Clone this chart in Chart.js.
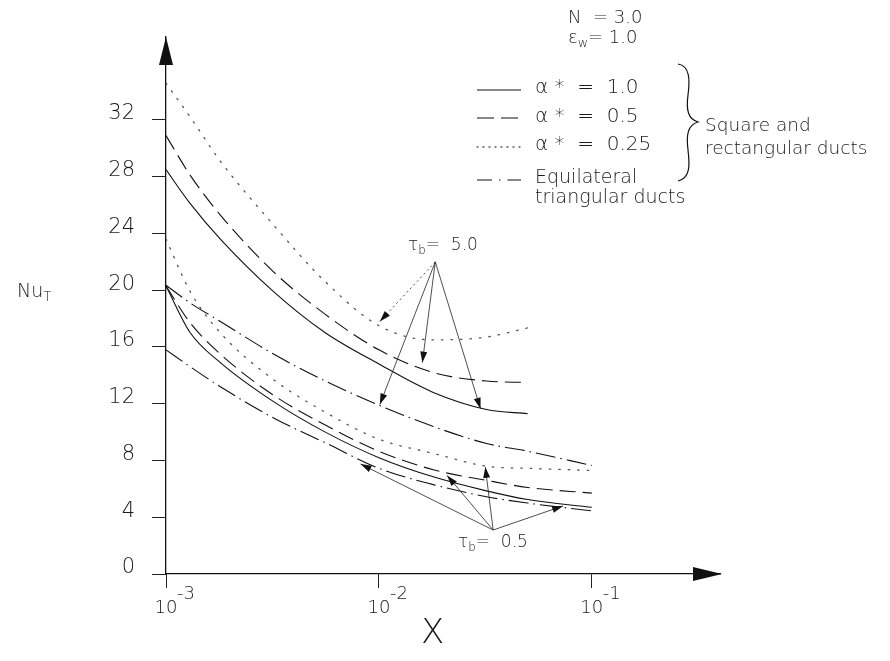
<!DOCTYPE html>
<html>
<head>
<meta charset="utf-8">
<script src="https://cdn.jsdelivr.net/npm/chart.js@4.4.0/dist/chart.umd.min.js"></script>
<style>
  html, body { margin: 0; padding: 0; background: #fff; }
  #wrap { position: relative; width: 890px; height: 661px; overflow: hidden; }
  #chart { position: absolute; left: 0; top: 0; }
  .lbl {
    position: absolute;
    font-family: "DejaVu Sans", "Liberation Sans", sans-serif;
    font-weight: 200;
    color: #1a1a1a;
    white-space: pre;
    line-height: 1;
  }
  .lbl sub { font-size: 70%; vertical-align: baseline; position: relative; top: 0.35em; line-height: 0; }
</style>
</head>
<body>
<div id="wrap">
  <canvas id="chart" width="890" height="661"></canvas>
</div>
<script>
// X positions (log axis)
const xShort = [0.001, 0.0013, 0.0018, 0.0032, 0.0056, 0.01, 0.018, 0.032, 0.05];
const xLong = [0.001, 0.0013, 0.0018, 0.0032, 0.0056, 0.01, 0.018, 0.032, 0.05, 0.1];

// tau_b = 5.0
const nu5Square = [28.5, 26.1, 23.6, 19.9, 17.0, 14.8, 12.8, 11.6, 11.3];
const nu5Rect05 = [30.9, 28.1, 25.3, 21.3, 18.3, 15.8, 14.2, 13.6, 13.5];
const nu5Rect025 = [34.6, 32.2, 29.1, 24.6, 20.6, 17.5, 16.5, 16.7, 17.35];
const nu5Tri = [20.35, 19.1, 17.8, 15.5, 13.6, 11.9, 10.4, 9.2, 8.65, 7.65];

// tau_b = 0.5
const nu05Square = [20.3, 17.0, 14.9, 12.15, 10.0, 8.2, 6.85, 5.86, 5.25, 4.7];
const nu05Rect05 = [20.3, 17.7, 15.5, 12.6, 10.5, 8.65, 7.35, 6.6, 6.1, 5.7];
const nu05Rect025 = [23.6, 19.9, 17.0, 13.7, 11.4, 9.5, 8.5, 7.6, 7.45, 7.3];
const nu05Tri = [15.8, 14.6, 13.2, 11.0, 9.25, 7.45, 6.3, 5.45, 5.0, 4.45];

// ticks
const xTicks = [0.001, 0.01, 0.1];
const xTickExp = ['-3', '-2', '-1'];
const yTicks = [0, 4, 8, 12, 16, 20, 24, 28, 32];

// arrows (data coordinates): origin, then targets
const arrowFrom5 = [0.0184, 22.0];
const arrowTo5 = [[0.0101, 17.8], [0.016, 14.9], [0.0101, 11.95], [0.03, 11.65]];
const arrowFrom05 = [0.0344, 3.1];
const arrowTo05 = [[0.0082, 7.75], [0.0209, 6.95], [0.0316, 7.55], [0.0733, 4.8]];

const FONT = "'DejaVu Sans', 'Liberation Sans', sans-serif";
const INK = '#1a1a1a';

const dashes = {
    solid: [],
    dashed: [16, 7],
    dotted: [1.5, 8],
    dashdot: [20, 5, 1.5, 5]
};

function series(xs, ys, dash, color) {
    return {
        data: xs.map((x, i) => ({ x: x, y: ys[i] })),
        borderColor: color || '#111',
        borderWidth: dash === 'dotted' ? 1.3 : 1.1,
        borderDash: dashes[dash],
        borderCapStyle: dash === 'dotted' ? 'round' : 'butt',
        pointRadius: 0,
        fill: false,
        cubicInterpolationMode: 'monotone'
    };
}

function arrow(ctx, x1, y1, x2, y2, dash) {
    ctx.save();
    ctx.strokeStyle = '#222';
    ctx.lineWidth = 0.8;
    ctx.setLineDash(dash || []);
    ctx.beginPath();
    ctx.moveTo(x1, y1);
    ctx.lineTo(x2, y2);
    ctx.stroke();
    ctx.setLineDash([]);
    const a = Math.atan2(y2 - y1, x2 - x1);
    const L = 11, W = 3.5;
    ctx.beginPath();
    ctx.moveTo(x2, y2);
    ctx.lineTo(x2 - L * Math.cos(a) + W * Math.sin(a), y2 - L * Math.sin(a) - W * Math.cos(a));
    ctx.lineTo(x2 - L * Math.cos(a) - W * Math.sin(a), y2 - L * Math.sin(a) + W * Math.cos(a));
    ctx.closePath();
    ctx.fillStyle = '#111';
    ctx.fill();
    ctx.restore();
}

// axis arrowheads, pointer arrows, legend samples and brace
const decor = {
    id: 'decor',
    afterDraw(chart) {
        const { ctx, chartArea, scales } = chart;
        const px = v => scales.x.getPixelForValue(v);
        const py = v => scales.y.getPixelForValue(v);
        ctx.save();
        ctx.fillStyle = '#111';
        ctx.beginPath();
        ctx.moveTo(chartArea.left, chartArea.top);
        ctx.lineTo(chartArea.left - 7, chartArea.top + 28);
        ctx.lineTo(chartArea.left + 7, chartArea.top + 28);
        ctx.closePath();
        ctx.fill();
        ctx.beginPath();
        ctx.moveTo(chartArea.right + 2, chartArea.bottom);
        ctx.lineTo(chartArea.right - 27, chartArea.bottom - 7);
        ctx.lineTo(chartArea.right - 27, chartArea.bottom + 7);
        ctx.closePath();
        ctx.fill();
        ctx.restore();

        arrowTo5.forEach((t, i) => {
            arrow(ctx, px(arrowFrom5[0]), py(arrowFrom5[1]), px(t[0]), py(t[1]), i === 0 ? [2, 3] : []);
        });
        arrowTo05.forEach(t => {
            arrow(ctx, px(arrowFrom05[0]), py(arrowFrom05[1]), px(t[0]), py(t[1]));
        });

        // legend line samples
        const rows = [['solid', 90], ['dashed', 118], ['dotted', 147], ['dashdot', 180]];
        rows.forEach(r => {
            ctx.save();
            ctx.strokeStyle = r[0] === 'dotted' ? '#555' : '#111';
            ctx.lineWidth = r[0] === 'dotted' ? 1.3 : 1.1;
            ctx.lineCap = r[0] === 'dotted' ? 'round' : 'butt';
            ctx.setLineDash(r[0] === 'dotted' ? [1, 5] : r[0] === 'dashed' ? [17, 7] : r[0] === 'dashdot' ? [15, 7, 1.5, 7] : []);
            ctx.beginPath();
            ctx.moveTo(477, r[1]);
            ctx.lineTo(521, r[1]);
            ctx.stroke();
            ctx.restore();
        });

        // brace
        ctx.save();
        ctx.strokeStyle = '#111';
        ctx.lineWidth = 1.2;
        ctx.beginPath();
        ctx.moveTo(678, 64);
        ctx.bezierCurveTo(690, 66, 690, 80, 688, 95);
        ctx.bezierCurveTo(686, 110, 688, 119, 698, 122);
        ctx.bezierCurveTo(688, 125, 686, 134, 688, 150);
        ctx.bezierCurveTo(690, 166, 690, 178, 678, 181);
        ctx.stroke();
        ctx.restore();
    }
};

const ctx = document.getElementById('chart').getContext('2d');
new Chart(ctx, {
    type: 'line',
    data: {
        datasets: [
            series(xShort, nu5Square, 'solid'),
            series(xShort, nu5Rect05, 'dashed'),
            series(xShort, nu5Rect025, 'dotted', '#555'),
            series(xLong, nu5Tri, 'dashdot'),
            series(xLong, nu05Square, 'solid'),
            series(xLong, nu05Rect05, 'dashed'),
            series(xLong, nu05Rect025, 'dotted', '#555'),
            series(xLong, nu05Tri, 'dashdot')
        ]
    },
    options: {
        responsive: false,
        animation: false,
        devicePixelRatio: 1,
        layout: { padding: { left: 0, right: 170, top: 37, bottom: 0 } },
        plugins: { legend: { display: false }, tooltip: { enabled: false } },
        scales: {
            x: {
                type: 'logarithmic',
                min: 0.001,
                max: 0.4,
                afterBuildTicks: s => { s.ticks = xTicks.map(v => ({ value: v })); },
                afterFit: s => { s.height = 87; },
                grid: { drawOnChartArea: false, drawTicks: true, tickLength: 14, color: '#222', lineWidth: 1 },
                border: { display: true, color: '#111', width: 1.3 },
                ticks: {
                    autoSkip: false,
                    maxRotation: 0,
                    padding: 0,
                    color: INK,
                    font: { family: FONT, size: 18, weight: 200, lineHeight: '13.5px' },
                    callback: (v, i) => ['       ' + xTickExp[i], '10']
                }
            },
            y: {
                min: 0,
                max: 37.85,
                afterBuildTicks: s => { s.ticks = yTicks.map(v => ({ value: v })); },
                afterFit: s => { s.width = 166; },
                grid: { drawOnChartArea: false, drawTicks: true, tickLength: 14, color: '#222', lineWidth: 1 },
                border: { display: true, color: '#111', width: 1.3 },
                ticks: {
                    padding: 17,
                    labelOffset: -6,
                    color: INK,
                    font: { family: FONT, size: 21, weight: 200 },
                    callback: v => String(v)
                }
            }
        }
    },
    plugins: [decor]
});

// text annotations
const wrap = document.getElementById('wrap');
function addLabel(html, x, baseline, size) {
    const d = document.createElement('div');
    d.className = 'lbl';
    d.style.fontSize = size + 'px';
    d.style.left = x + 'px';
    d.style.top = (baseline - 0.85 * size) + 'px';
    d.innerHTML = html;
    wrap.appendChild(d);
}

addLabel('N  = 3.0', 568, 23, 18);
addLabel('ε<sub>w</sub>= 1.0', 568, 43, 18);
addLabel('α *  =  1.0', 535, 93, 20);
addLabel('α *  =  0.5', 535, 122, 20);
addLabel('α *  =  0.25', 535, 150, 20);
addLabel('Square and', 705, 132, 18.5);
addLabel('rectangular ducts', 705, 155, 18.5);
addLabel('Equilateral', 535, 183, 19);
addLabel('triangular ducts', 535, 203, 19);
addLabel('τ<sub>b</sub>=  5.0', 408, 250, 17);
addLabel('τ<sub>b</sub>=  0.5', 458, 547, 17);
addLabel('Nu<sub>T</sub>', 17, 297, 19);
addLabel('X', 421, 643, 34);
</script>
</body>
</html>
